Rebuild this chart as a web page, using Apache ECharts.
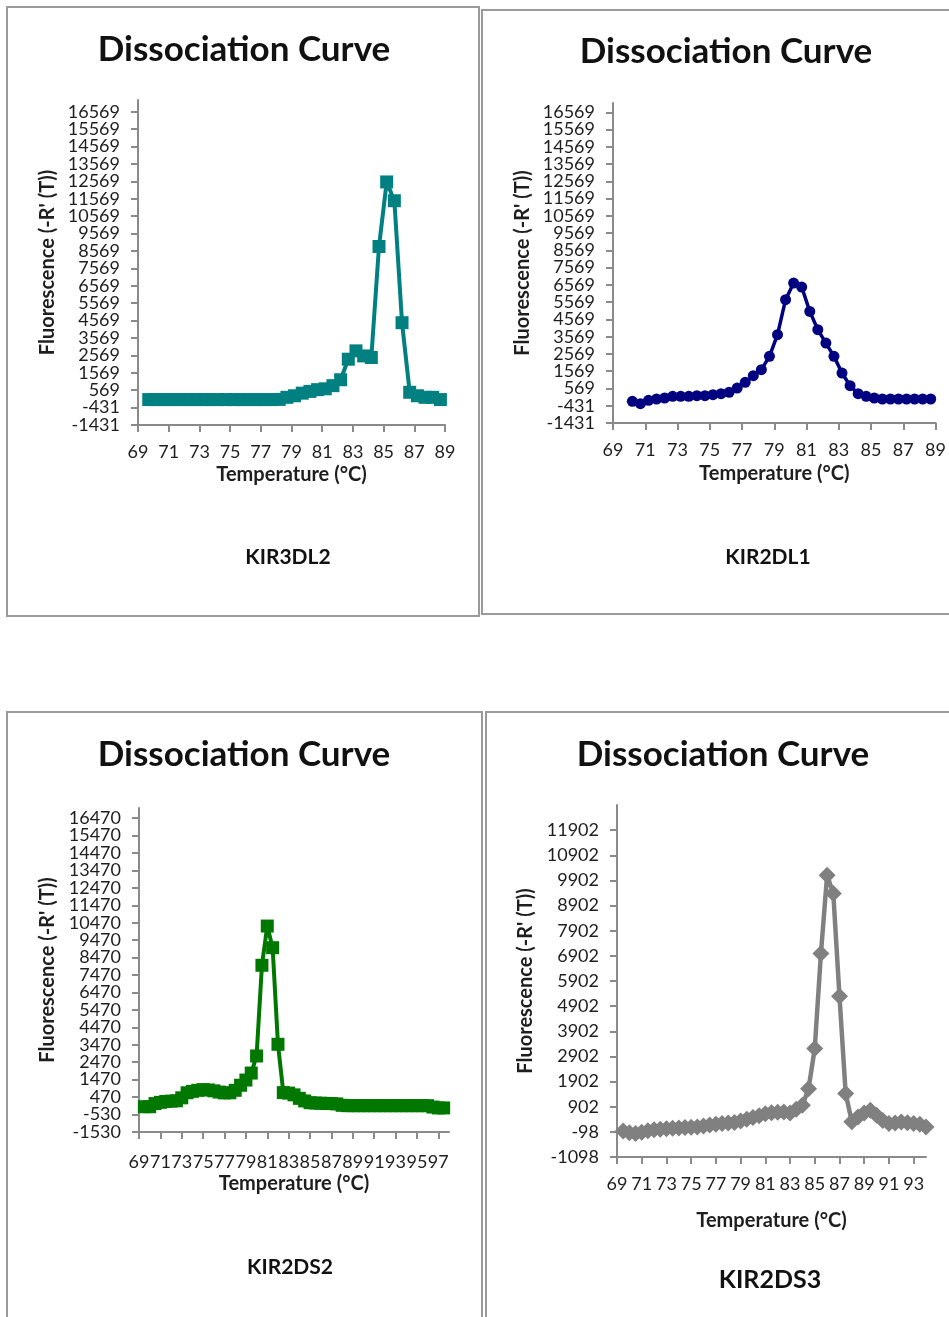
<!DOCTYPE html>
<html><head><meta charset="utf-8">
<script src="https://cdn.jsdelivr.net/npm/echarts@6/dist/echarts.min.js"></script>
<style>html,body{margin:0;padding:0;background:#fff;} #c{width:949px;height:1317px;}</style>
</head><body><div id="c"></div>
<script>
// ---------- text ----------
const panelTitle = 'Dissociation Curve';
const xName = 'Temperature (°C)';
const yName = "Fluorescence (-R' (T))";
const geneNames = ['KIR3DL2', 'KIR2DL1', 'KIR2DS2', 'KIR2DS3'];

// ---------- KIR3DL2 ----------
const temps1 = [69.7,70.2,70.7,71.2,71.7,72.2,72.7,73.2,73.7,74.2,74.7,75.2,75.7,76.2,76.7,77.2,77.7,78.2,
  78.7,79.2,79.7,80.2,80.7,81.2,81.7,82.2,82.7,83.2,83.7,84.2,84.7,85.2,85.7,86.2,86.7,87.2,87.7,88.2,88.7];
const values1 = [30,30,30,30,30,30,30,30,30,30,30,30,30,30,30,30,30,40,
  160,250,400,500,600,650,830,1170,2350,2830,2540,2450,8830,12540,11460,4450,450,250,160,160,30];

// ---------- KIR2DL1 ----------
const temps2 = [70.2,70.7,71.2,71.7,72.2,72.7,73.2,73.7,74.2,74.7,75.2,75.7,76.2,76.7,77.2,77.7,78.2,78.7,79.2,
  79.7,80.2,80.7,81.2,81.7,82.2,82.7,83.2,83.7,84.2,84.7,85.2,85.7,86.2,86.7,87.2,87.7,88.2,88.7];
const values2 = [-176,-311,-118,-41,17,113,113,113,152,152,210,268,345,596,924,1310,1658,2430,3685,
  5712,6677,6445,5036,3974,3202,2430,1465,731,268,113,17,-41,-41,-41,-41,-41,-41,-41];

// ---------- KIR2DS2 ----------
const temps3 = [69.5,70,70.5,71,71.5,72,72.5,73,73.5,74,74.5,75,75.5,76,76.5,77,77.5,78,78.5,79,79.5,
  80,80.5,81,81.5,82,82.5,83,83.5,84,84.5,85,85.5,86,86.5,87,87.5,88,88.5,89,89.5,90,90.5,91,91.5,92,92.5,
  93,93.5,94,94.5,95,95.5,96,96.5,97,97.5];
const values3 = [-80,-80,100,170,220,240,260,430,720,800,860,900,880,830,760,710,720,860,1150,1450,1850,
  2830,8030,10280,9040,3500,730,700,600,400,250,150,130,120,110,100,80,0,-20,-20,-20,-20,-20,-20,-20,-20,-20,
  -20,-20,-20,-20,-20,-20,-20,-100,-150,-150];

// ---------- KIR2DS3 ----------
const temps4 = [69.5,70,70.5,71,71.5,72,72.5,73,73.5,74,74.5,75,75.5,76,76.5,77,77.5,78,78.5,79,79.5,
  80,80.5,81,81.5,82,82.5,83,83.5,84,84.5,85,85.5,86,86.5,87,87.5,88,88.5,89,89.5,90,90.5,91,91.5,92,92.5,
  93,93.5,94];
const values4 = [-60,-130,-160,-110,-50,-10,10,30,45,60,75,85,95,130,170,205,230,250,270,330,400,
  470,540,620,660,680,690,650,800,960,1620,3220,7000,10110,9380,5300,1430,300,490,650,760,560,350,230,250,290,260,
  230,200,100];

// ---------- tick labels ----------
const yTicks1 = [-1431,-431,569,1569,2569,3569,4569,5569,6569,7569,8569,9569,10569,11569,12569,13569,14569,15569,16569];
const yTicks2 = [-1431,-431,569,1569,2569,3569,4569,5569,6569,7569,8569,9569,10569,11569,12569,13569,14569,15569,16569];
const yTicks3 = [-1530,-530,470,1470,2470,3470,4470,5470,6470,7470,8470,9470,10470,11470,12470,13470,14470,15470,16470];
const yTicks4 = [-1098,-98,902,1902,2902,3902,4902,5902,6902,7902,8902,9902,10902,11902];
const xTicks1 = [69,71,73,75,77,79,81,83,85,87,89];
const xTicks2 = [69,71,73,75,77,79,81,83,85,87,89];
const xTicks3 = [69,71,73,75,77,79,81,83,85,87,89,91,93,95,97];
const xTicks4 = [69,71,73,75,77,79,81,83,85,87,89,91,93];

// ---------- layout / style ----------
const FONT = 'Lato';
const AXIS_COLOR = '#8a8a8a';
const TEXT_COLOR = '#1e1e1e';
const panels = [
  {grid:{left:138,top:100,width:307,height:325}, x:[69,89], y:[-1431,17250], xt:xTicks1, yt:yTicks1,
   t:temps1, v:values1, color:'#008080', symbol:'rect', size:13, lw:4, xGap:40, yGap:80, xMargin:18,
   box:[7,7,472,609], title:[244,50], gene:[288,557,21]},
  {grid:{left:613,top:103,width:324,height:320}, x:[69,89], y:[-1431,17110], xt:xTicks2, yt:yTicks2,
   t:temps2, v:values2, color:'#000080', symbol:'circle', size:11, lw:3.5, xGap:41, yGap:80, xMargin:18,
   box:[482,10,480,604], title:[726,52], gene:[768,557,21]},
  {grid:{left:139,top:808,width:310,height:324}, x:[69,98], y:[-1530,17050], xt:xTicks3, yt:yTicks3,
   t:temps3, v:values3, color:'#007800', symbol:'rect', size:13, lw:4, xGap:42, yGap:81, xMargin:21,
   box:[7,712,475,620], title:[244,755], gene:[290,1267,21]},
  {grid:{left:617,top:805,width:309,height:352}, x:[69,94], y:[-1098,12902], xt:xTicks4, yt:yTicks4,
   t:temps4, v:values4, color:'#808080', symbol:'diamond', size:17, lw:4.5, xGap:54, yGap:81, xMargin:18,
   box:[486,712,480,620], title:[723,755], gene:[770,1280,25]}
];

const grids = [], xAxes = [], yAxes = [], series = [], graphics = [];
const labelStyle = {color:TEXT_COLOR, fontFamily:FONT, fontSize:18, hideOverlap:false, formatter:v => String(v)};
const nameStyle = {color:TEXT_COLOR, fontFamily:FONT, fontSize:20, fontWeight:'bold'};
panels.forEach((p, i) => {
  grids.push(Object.assign({containLabel:false}, p.grid));
  xAxes.push({
    type:'value', gridIndex:i, min:p.x[0], max:p.x[1], position:'bottom',
    splitLine:{show:false},
    axisLine:{show:true, onZero:false, lineStyle:{color:AXIS_COLOR, width:2}},
    axisTick:{show:true, length:7, customValues:p.xt, lineStyle:{color:AXIS_COLOR, width:2}},
    axisLabel:Object.assign({customValues:p.xt, margin:p.xMargin}, labelStyle),
    name:xName, nameLocation:'middle', nameGap:p.xGap, nameTextStyle:nameStyle
  });
  // labels are split over two coincident axes so the tightly packed labels are all kept
  const evenLabels = p.yt.filter((v, k) => k % 2 === 0);
  const oddLabels = p.yt.filter((v, k) => k % 2 === 1);
  yAxes.push({
    type:'value', gridIndex:i, min:p.y[0], max:p.y[1], position:'left', offset:0,
    splitLine:{show:false},
    axisLine:{show:true, onZero:false, lineStyle:{color:AXIS_COLOR, width:2}},
    axisTick:{show:true, length:7, customValues:p.yt, lineStyle:{color:AXIS_COLOR, width:2}},
    axisLabel:Object.assign({customValues:evenLabels, margin:18}, labelStyle),
    name:yName, nameLocation:'middle', nameGap:p.yGap, nameRotate:90, nameTextStyle:nameStyle
  });
  yAxes.push({
    type:'value', gridIndex:i, min:p.y[0], max:p.y[1], position:'left', offset:0,
    splitLine:{show:false},
    axisLine:{show:false, onZero:false},
    axisTick:{show:false},
    axisLabel:Object.assign({customValues:oddLabels, margin:18}, labelStyle)
  });
  series.push({
    type:'line', xAxisIndex:i, yAxisIndex:2 * i,
    data:p.t.map((t, k) => [t, p.v[k]]),
    symbol:p.symbol, symbolSize:p.size, showSymbol:true,
    lineStyle:{color:p.color, width:p.lw},
    itemStyle:{color:p.color, borderWidth:0},
    emphasis:{disabled:true}
  });
  graphics.push({type:'rect', shape:{x:p.box[0], y:p.box[1], width:p.box[2], height:p.box[3]},
    style:{fill:'none', stroke:'#9a9a9a', lineWidth:2}, z:-1});
  graphics.push({type:'text', x:p.title[0], y:p.title[1],
    style:{text:panelTitle, font:'bold 35px ' + FONT, fill:'#111',
      align:'center', verticalAlign:'middle', textAlign:'center', textVerticalAlign:'middle'}});
  graphics.push({type:'text', x:p.gene[0], y:p.gene[1],
    style:{text:geneNames[i], font:'bold ' + p.gene[2] + 'px ' + FONT, fill:'#111',
      align:'center', verticalAlign:'middle', textAlign:'center', textVerticalAlign:'middle'}});
});

const chart = echarts.init(document.getElementById('c'), null, {renderer:'canvas'});
chart.setOption({
  backgroundColor:'#ffffff',
  animation:false,
  grid:grids, xAxis:xAxes, yAxis:yAxes, series:series,
  graphic:{elements:graphics}
});
</script></body></html>
